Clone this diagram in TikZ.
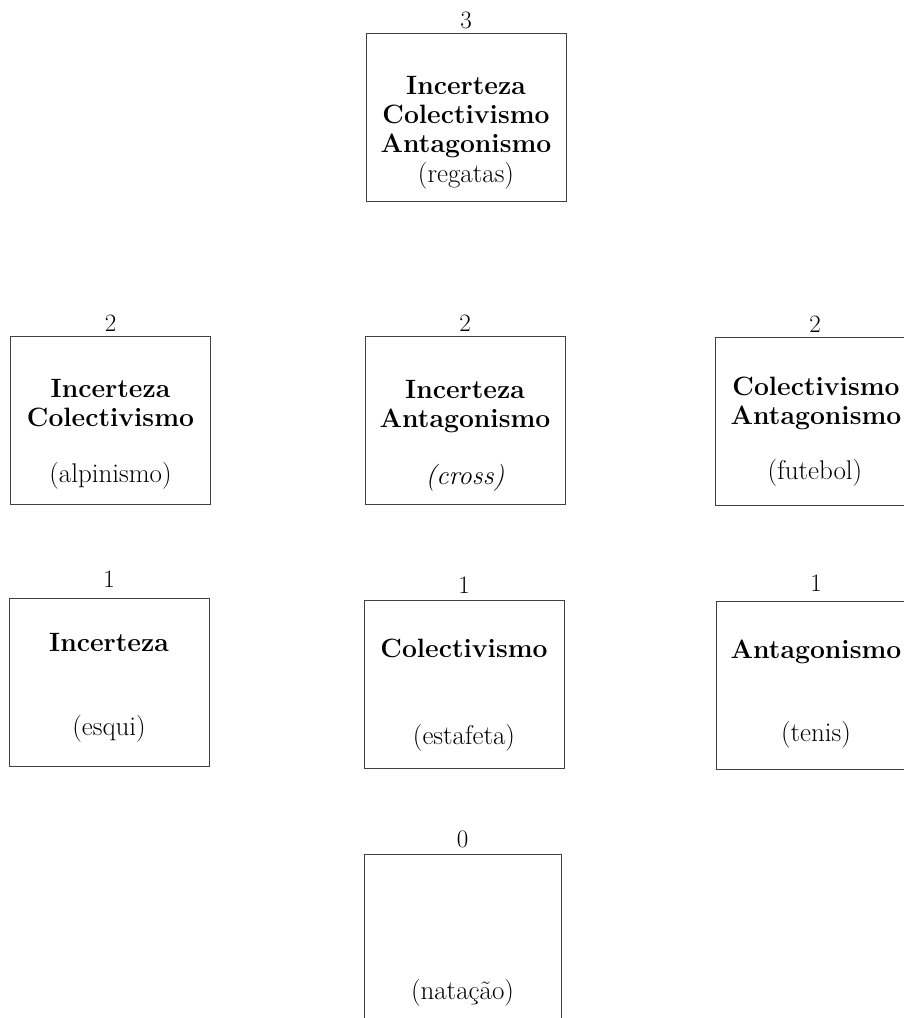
\documentclass[tikz,border=0pt]{standalone}
\begin{document}
\begin{tikzpicture}[x=1pt,y=-1pt,
  box/.style={draw=black!75,line width=1pt,inner sep=0pt,minimum width=200pt,minimum height=168pt},
  ttl/.style={anchor=base,inner sep=0pt,font=\fontsize{26.5}{29}\selectfont\bfseries},
  sport/.style={anchor=base,inner sep=0pt,font=\fontsize{27}{29}\selectfont},
  num/.style={anchor=base,inner sep=0pt,font=\fontsize{25}{29}\selectfont}]
\useasboundingbox (0,0) rectangle (904,1018);
% level 3
\node[box] (b3) at (466,117) {};
\node[num] (n3) at (466,28) {3};
\node[ttl] (b3l1) at (466,94) {Incerteza};
\node[ttl] (b3l2) at (466,123) {Colectivismo};
\node[ttl] (b3l3) at (466,152) {Antagonismo};
\node[sport] (b3s) at (466,182) {(regatas)};
% level 2
\node[box] (b2a) at (110.5,420) {};
\node[num] (n2a) at (110.5,331) {2};
\node[ttl] (b2al1) at (110.5,397) {Incerteza};
\node[ttl] (b2al2) at (110.5,426) {Colectivismo};
\node[sport] (b2as) at (110.5,482) {(alpinismo)};
\node[box] (b2b) at (465,420) {};
\node[num] (n2b) at (465,331) {2};
\node[ttl] (b2bl1) at (465,398) {Incerteza};
\node[ttl] (b2bl2) at (465,427) {Antagonismo};
\node[sport] (b2bs) at (465,484) {\itshape(cross)};
\node[box] (b2c) at (815,421) {};
\node[num] (n2c) at (815,332) {2};
\node[ttl] (b2cl1) at (816,395) {Colectivismo};
\node[ttl] (b2cl2) at (816,424) {Antagonismo};
\node[sport] (b2cs) at (815,479) {(futebol)};
% level 1
\node[box] (b1a) at (109,682.5) {};
\node[num] (n1a) at (109,587) {1};
\node[ttl] (b1al1) at (109,651) {Incerteza};
\node[sport] (b1as) at (109,735) {(esqui)};
\node[box] (b1b) at (464,684) {};
\node[num] (n1b) at (464,593) {1};
\node[ttl] (b1bl1) at (464,657) {Colectivismo};
\node[sport] (b1bs) at (464,744) {(estafeta)};
\node[box] (b1c) at (816,685) {};
\node[num] (n1c) at (816,591) {1};
\node[ttl] (b1cl1) at (816,658) {Antagonismo};
\node[sport] (b1cs) at (816,741) {(tenis)};
% level 0
\node[box,minimum width=197pt] (b0) at (462.5,938) {};
\node[num] (n0) at (462.5,847) {0};
\node[sport] (b0s) at (462.5,999) {(natação)};
\end{tikzpicture}
\end{document}
